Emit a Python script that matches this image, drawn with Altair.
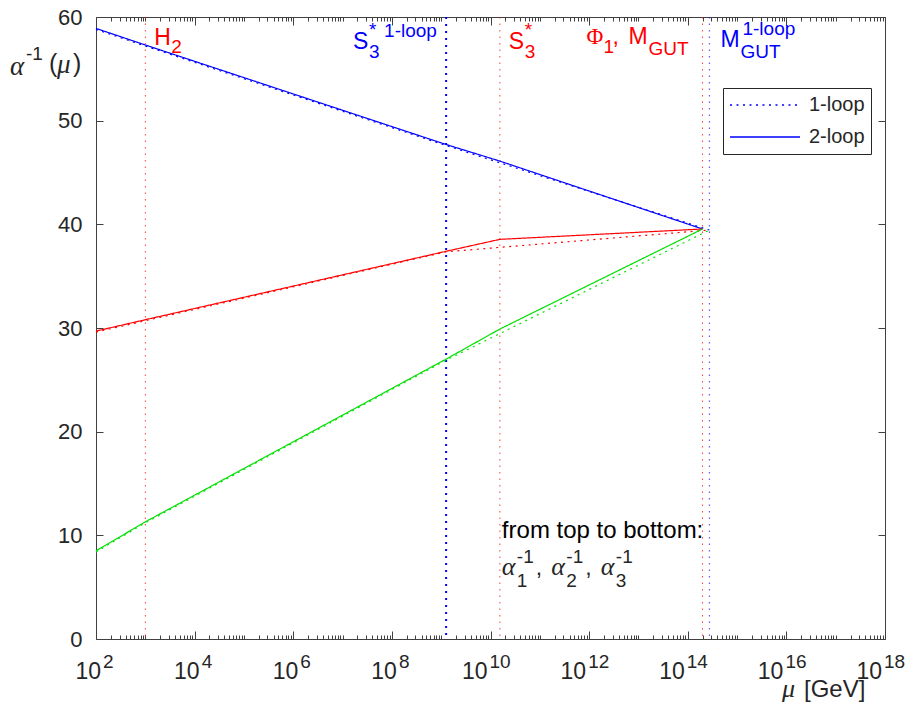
import altair as alt
import pandas as pd

# ---------------- data ----------------
SERIES = ["alpha1", "alpha2", "alpha3"]
SERIES_COLORS = ["#0000ff", "#ff0000", "#00e000"]
LOOPS = ["1-loop", "2-loop"]

# 2-loop running (breakpoints at the thresholds)
MU_2LOOP = [1e2, 1e3, 10**9.10, 10**10.19, 10**14.30]
ALPHA1_2LOOP = [58.9, 57.3, 47.7, 46.1, 39.55]
ALPHA2_2LOOP = [29.7, 30.8, 37.4, 38.55, 39.55]
ALPHA3_2LOOP = [8.5, 11.3, 27.0, 29.9, 39.55]

# 1-loop running
MU_1LOOP = [1e2, 1e3, 10**9.10, 10**14.44]
ALPHA1_1LOOP = [58.8, 57.2, 47.6, 39.45]
ALPHA2_1LOOP = [29.6, 30.7, 37.35, 39.45]
ALPHA3_1LOOP = [8.4, 11.2, 26.9, 39.45]

# thresholds (vertical dotted lines)
THRESHOLD_NAMES = ["H2", "S3*_1loop", "S3*", "MGUT", "MGUT_1loop"]
THRESHOLD_MU = [1e3, 10**9.10, 10**10.19, 10**14.30, 10**14.44]
THRESHOLD_STYLE = ["red", "blue_bold", "red", "red", "blue"]

X_MAJOR_EXP = [2, 4, 6, 8, 10, 12, 14, 16, 18]
Y_TICKS = [0, 10, 20, 30, 40, 50, 60]

# ---------------- tables ----------------
rows = []
for s, a2, a1 in zip(SERIES, [ALPHA1_2LOOP, ALPHA2_2LOOP, ALPHA3_2LOOP],
                     [ALPHA1_1LOOP, ALPHA2_1LOOP, ALPHA3_1LOOP]):
    for m, a in zip(MU_2LOOP, a2):
        rows.append({"mu": m, "alpha": a, "series": s, "loop": "2-loop"})
    for m, a in zip(MU_1LOOP, a1):
        rows.append({"mu": m, "alpha": a, "series": s, "loop": "1-loop"})
df_lines = pd.DataFrame(rows)

df_thr = pd.DataFrame({"name": THRESHOLD_NAMES, "mu": THRESHOLD_MU, "style": THRESHOLD_STYLE})

X_MAJOR = [10.0**e for e in X_MAJOR_EXP]
X_MINOR = [float(m * 10**k) for k in range(2, 18) for m in range(1, 10)
           if not (m == 1 and k % 2 == 0)]
df_ticks = pd.DataFrame({"mu": X_MAJOR, "base": ["10"] * len(X_MAJOR),
                         "exp": [str(e) for e in X_MAJOR_EXP]})

# ---------------- layout / style ----------------
W, H = 789, 622
AX = "#404040"
TXT = "#262626"
SANS = "Liberation Sans"
SERIF = "Liberation Serif"
BIG = 23
SMALL = 19
XS = alt.Scale(type="log", domain=[1e2, 1e18], nice=False)
YS = alt.Scale(domain=[0, 60], nice=False, zero=False)


def xaxis(orient, values, size):
    return alt.Axis(orient=orient, offset=-H, values=values, tickSize=size, labels=False,
                    domain=False, tickColor=AX, tickWidth=1, grid=False, title=None)


def yaxis(orient):
    return alt.Axis(orient=orient, offset=-W, values=Y_TICKS, tickSize=7, labels=False,
                    domain=False, tickColor=AX, tickWidth=1, grid=False, title=None)


def txt(text, xv, yv, dx, dy, size, color=TXT, font=SANS, style="normal", align="left"):
    return alt.Chart(alt.Data(values=[{}])).mark_text(
        text=text, dx=dx, dy=dy, fontSize=size, font=font, fontStyle=style,
        color=color, align=align, baseline="alphabetic"
    ).encode(
        x=alt.X(datum=xv, type="quantitative", scale=XS, axis=None),
        y=alt.Y(datum=yv, type="quantitative", scale=YS, axis=None),
    )


# vertical threshold lines
rules_red = alt.Chart(df_thr).transform_filter(alt.datum.style == "red").mark_rule(
    color="#ff0000", strokeWidth=1, strokeDash=[1.5, 5], opacity=0.75
).encode(x=alt.X("mu:Q", scale=XS, axis=xaxis("bottom", X_MAJOR, 8)))

rules_blue_bold = alt.Chart(df_thr).transform_filter(alt.datum.style == "blue_bold").mark_rule(
    color="#0000ff", strokeWidth=2, strokeDash=[2, 5]
).encode(x=alt.X("mu:Q", scale=XS, axis=None))

rules_blue = alt.Chart(df_thr).transform_filter(alt.datum.style == "blue").mark_rule(
    color="#0000ff", strokeWidth=1.3, strokeDash=[1.5, 5], opacity=0.6
).encode(x=alt.X("mu:Q", scale=XS, axis=None))

lines = alt.Chart(df_lines).mark_line(strokeWidth=1.2).encode(
    x=alt.X("mu:Q", scale=XS, axis=xaxis("top", X_MAJOR, 8)),
    y=alt.Y("alpha:Q", scale=YS, axis=alt.Axis(
        orient="left", values=Y_TICKS, ticks=False, tickSize=0, domain=False,
        labelFontSize=22, labelFont=SANS, labelColor=TXT, labelPadding=14,
        grid=False, title=None)),
    color=alt.Color("series:N", scale=alt.Scale(domain=SERIES, range=SERIES_COLORS), legend=None),
    strokeDash=alt.StrokeDash("loop:N", scale=alt.Scale(domain=LOOPS, range=[[2, 4.5], [1, 0]]),
                              legend=alt.Legend(
                                  orient="none", legendX=627, legendY=71, title=None,
                                  symbolType="stroke", symbolSize=4900, symbolStrokeWidth=1.3,
                                  symbolStrokeColor="#0000ff", labelFontSize=20, labelFont=SANS,
                                  labelColor=TXT, labelOffset=8, strokeColor=TXT, fillColor="white",
                                  padding=6, rowPadding=10, clipHeight=22)),
    order=alt.Order("mu:Q"),
)

# x tick labels 10^k drawn as base + superscript
one_digit = "length(datum.exp) == 1"
two_digit = "length(datum.exp) == 2"
tick_base1 = alt.Chart(df_ticks).transform_filter(one_digit).mark_text(
    dx=5, dy=40, fontSize=BIG, font=SANS, color=TXT, align="right", baseline="alphabetic"
).encode(
    x=alt.X("mu:Q", scale=XS, axis=xaxis("top", X_MINOR, 4)),
    y=alt.Y(datum=0, type="quantitative", scale=YS, axis=yaxis("left")),
    text="base:N",
)
tick_exp1 = alt.Chart(df_ticks).transform_filter(one_digit).mark_text(
    dx=7, dy=29, fontSize=SMALL, font=SANS, color=TXT, align="left", baseline="alphabetic"
).encode(
    x=alt.X("mu:Q", scale=XS, axis=xaxis("bottom", X_MINOR, 4)),
    y=alt.Y(datum=0, type="quantitative", scale=YS, axis=yaxis("right")),
    text="exp:N",
)
tick_base2 = alt.Chart(df_ticks).transform_filter(two_digit).mark_text(
    dx=-3, dy=40, fontSize=BIG, font=SANS, color=TXT, align="right", baseline="alphabetic"
).encode(
    x=alt.X("mu:Q", scale=XS, axis=None),
    y=alt.Y(datum=0, type="quantitative", scale=YS, axis=None),
    text="base:N",
)
tick_exp2 = alt.Chart(df_ticks).transform_filter(two_digit).mark_text(
    dx=-1, dy=29, fontSize=SMALL, font=SANS, color=TXT, align="left", baseline="alphabetic"
).encode(
    x=alt.X("mu:Q", scale=XS, axis=None),
    y=alt.Y(datum=0, type="quantitative", scale=YS, axis=None),
    text="exp:N",
)

RED = "#ff0000"
BLUE = "#0000ff"
m_h2, m_s3l, m_s3, m_gut, m_gutl = THRESHOLD_MU
pieces = [
    # H_2
    txt("H", m_h2, 60, 9, 28, BIG, RED), txt("2", m_h2, 60, 26, 36, SMALL, RED),
    # S_3^* 1-loop
    txt("S", m_s3l, 60, -93, 32, BIG, BLUE), txt("*", m_s3l, 60, -77, 19, SMALL, BLUE),
    txt("3", m_s3l, 60, -77, 41, SMALL, BLUE), txt("1-loop", m_s3l, 60, -62, 20, SMALL, BLUE),
    # S_3^*
    txt("S", m_s3, 60, 9, 32, BIG, RED), txt("*", m_s3, 60, 25, 19, SMALL, RED),
    txt("3", m_s3, 60, 25, 41, SMALL, RED),
    # Phi_1, M_GUT
    txt("\u03a6", m_gut, 60, -116, 27, BIG, RED, SERIF), txt("1", m_gut, 60, -99, 36, SMALL, RED),
    txt(",", m_gut, 60, -90, 27, BIG, RED), txt("M", m_gut, 60, -74, 27, BIG, RED),
    txt("GUT", m_gut, 60, -54, 38, SMALL, RED),
    # M_GUT^1-loop
    txt("M", m_gutl, 60, 11, 30, BIG, BLUE), txt("GUT", m_gutl, 60, 31, 41, SMALL, BLUE),
    txt("1-loop", m_gutl, 60, 33, 18, SMALL, BLUE),
    # y title alpha^-1(mu)
    txt("\u03b1", 1e2, 60, -86, 58, 27, TXT, SERIF, "italic"),
    txt("-1", 1e2, 60, -70, 43, SMALL), txt("(", 1e2, 60, -47, 55, 25),
    txt("\u03bc", 1e2, 60, -39, 56, 27, TXT, SERIF, "italic"), txt(")", 1e2, 60, -23, 55, 25),
    # x title
    txt("\u03bc", 1e18, 0, -103, 58, 26, TXT, SERIF, "italic"),
    txt("[GeV]", 1e18, 0, -81, 58, 24),
    # note
    txt("from top to bottom:", m_s3, 10, 2, 3, 24, "#000000"),
]
for i, g in enumerate([2, 51.5, 101]):
    pieces += [
        txt("\u03b1", m_s3, 10, g, 40, 26, TXT, SERIF, "italic"),
        txt("-1", m_s3, 10, g + 15, 28, SMALL),
        txt(str(i + 1), m_s3, 10, g + 15, 52, SMALL),
    ]
    if i < 2:
        pieces.append(txt(",", m_s3, 10, g + 34, 40, BIG))

chart = alt.layer(
    rules_red, rules_blue_bold, rules_blue, lines,
    tick_base1, tick_exp1, tick_base2, tick_exp2, *pieces
).resolve_axis(x="independent", y="independent").properties(
    width=W, height=H,
    autosize=alt.AutoSizeParams(type="none"),
    padding={"left": 88, "top": 9, "right": 20, "bottom": 63},
    background="white",
).configure_view(stroke=AX, strokeWidth=1)

chart.save("out.html", embed_options={"renderer": "svg", "actions": False})
